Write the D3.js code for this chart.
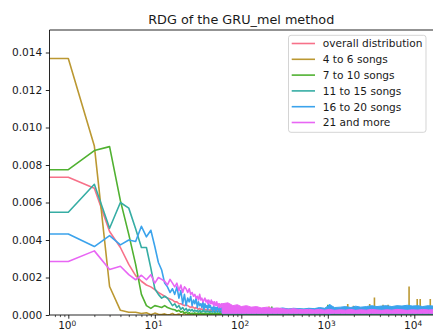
<!DOCTYPE html>
<html>
<head>
<meta charset="utf-8">
<script src="https://cdn.jsdelivr.net/npm/d3@7"></script>
<style>
  body { margin: 0; background: #fff; }
  text { font-family: "DejaVu Sans", sans-serif; fill: #1a1a1a; }
</style>
</head>
<body>
<svg id="chart" width="433" height="330"></svg>
<script>
// Relative distribution of songs by rank (x, log scale) for each playlist-length group.
const seriesNames = ["overall distribution", "4 to 6 songs", "7 to 10 songs",
                     "11 to 15 songs", "16 to 20 songs", "21 and more"];
const seriesColors = ["#f77189", "#bb9832", "#50b131", "#36ada4", "#3ba3ec", "#e866f4"];

// Values for ranks 0..60, one per rank
const headOverall = [
  0.00735, 0.00735, 0.00676, 0.00445, 0.0036, 0.0027, 0.0021, 0.0018, 0.0016, 0.0015,
  0.00135, 0.0012, 0.0011, 0.001, 0.0009, 0.00085, 0.0008, 0.0007, 0.0007, 0.0006,
  0.0006, 0.00055, 0.0005, 0.00055, 0.0005, 0.00045, 0.0004, 0.00045, 0.0004, 0.00035,
  0.0004, 0.00035, 0.0003, 0.00035, 0.0003, 0.00032, 0.0003, 0.00028, 0.0003, 0.00027,
  0.0003, 0.00026, 0.00028, 0.00025, 0.00028, 0.00024, 0.00027, 0.00025, 0.00023, 0.00026,
  0.00024, 0.00022, 0.00025, 0.00023, 0.00022, 0.00024, 0.00021, 0.00023, 0.00022, 0.0002, 0.00022];
const head4to6 = [
  0.01368, 0.01368, 0.00901, 0.00152, 0.00025, 0.00015, 0.00015, 0.00008, 0.00012, 0.00002,
  0.0001, 0.00004, 0.00002, 0.00006, 0.0, 0.00003, 0.00008, 0.0, 0.00002, 0.00005,
  0.0, 0.00003, 0.0001, 0.0, 0.00002, 0.00006, 0.0, 0.00004, 0.00002, 0.0,
  0.00005, 0.0, 0.00003, 0.00008, 0.0, 0.00002, 0.00004, 0.0, 0.00006, 0.0,
  0.00003, 0.0, 0.00005, 0.00002, 0.0, 0.00007, 0.0, 0.00003, 0.0, 0.00004,
  0.0, 0.00006, 0.0, 0.00003, 0.00008, 0.0, 0.00004, 0.0, 0.00005, 0.0, 0.00003];
const head7to10 = [
  0.00775, 0.00775, 0.00877, 0.00898, 0.0061, 0.0043, 0.0027, 0.0011, 0.0005, 0.00035,
  0.0005, 0.00045, 0.0004, 0.0005, 0.0004, 0.00035, 0.0003, 0.00028, 0.0002, 0.00025,
  0.00015, 0.0002, 0.0001, 0.00015, 0.00008, 0.00012, 0.00006, 0.0001, 0.00005, 0.00012,
  0.00006, 0.0001, 0.00004, 0.00008, 0.00012, 0.00005, 0.00009, 0.00004, 0.0001, 0.00006,
  0.00008, 0.00003, 0.00009, 0.00005, 0.0001, 0.00004, 0.00008, 0.00006, 0.00003, 0.0001,
  0.00005, 0.00008, 0.00004, 0.00009, 0.00006, 0.00003, 0.0001, 0.00005, 0.00007, 0.00004, 0.00008];
const head11to15 = [
  0.00548, 0.00548, 0.00697, 0.00463, 0.006, 0.0057, 0.0046, 0.0036, 0.0036, 0.0025,
  0.0014, 0.0011, 0.0009, 0.001, 0.0009, 0.0007, 0.0005, 0.0006, 0.0004, 0.0005,
  0.0003, 0.0004, 0.00025, 0.00035, 0.0002, 0.0003, 0.00022, 0.0003, 0.00018, 0.00026,
  0.0002, 0.00025, 0.00015, 0.00024, 0.0002, 0.00016, 0.00025, 0.00018, 0.00022, 0.00015,
  0.00022, 0.00017, 0.0002, 0.00014, 0.00021, 0.00018, 0.00015, 0.0002, 0.00016, 0.00019,
  0.00014, 0.0002, 0.00017, 0.00015, 0.00021, 0.00016, 0.00018, 0.00014, 0.0002, 0.00016, 0.00018];
const head16to20 = [
  0.00432, 0.00432, 0.00365, 0.00423, 0.00374, 0.004, 0.00392, 0.00473, 0.00417, 0.00452,
  0.00365, 0.0028, 0.0024, 0.0017, 0.0015, 0.0012, 0.0014, 0.0011, 0.0015, 0.0009,
  0.0013, 0.0006, 0.0011, 0.0005, 0.0009, 0.0007, 0.001, 0.0005, 0.0008, 0.0006,
  0.0009, 0.0004, 0.0007, 0.0005, 0.0006, 0.0004, 0.0007, 0.0003, 0.0006, 0.0004,
  0.0005, 0.0003, 0.0006, 0.0004, 0.0005, 0.0003, 0.0004, 0.0002, 0.0005, 0.0003,
  0.0004, 0.0002, 0.0004, 0.0003, 0.0005, 0.0002, 0.0004, 0.0003, 0.0003, 0.0004, 0.0002];
const head21plus = [
  0.00285, 0.00285, 0.00342, 0.00243, 0.0026, 0.00215, 0.00188, 0.00212, 0.00188, 0.00215,
  0.0017, 0.002, 0.0019, 0.0018, 0.0016, 0.0019, 0.0017, 0.0015, 0.0017, 0.0013,
  0.0016, 0.0012, 0.0015, 0.0014, 0.0012, 0.0014, 0.0011, 0.0012, 0.001, 0.0011,
  0.0009, 0.001, 0.0008, 0.0011, 0.0008, 0.0009, 0.0007, 0.0008, 0.0009, 0.0007,
  0.0008, 0.0006, 0.0008, 0.0007, 0.0006, 0.0008, 0.0006, 0.0007, 0.0005, 0.0007,
  0.0006, 0.0005, 0.0007, 0.0005, 0.0006, 0.0004, 0.0006, 0.0005, 0.0004, 0.0006, 0.0005];

// Long tail: upper envelope per rank bin, lower envelope as one floor per series
const tailRank = [60, 70, 80, 90, 100, 115, 130, 150, 170, 200, 230, 260, 300, 350, 400, 460, 530,
  600, 700, 800, 920, 1050, 1200, 1400, 1600, 1850, 2100, 2400, 2800, 3200, 3700, 4200, 4800,
  5500, 6300, 7200, 8300, 9500, 11000, 12500, 14500, 16500];
const tailHiOverall = [0.00025, 0.00028, 0.00024, 0.00026, 0.00023, 0.00025, 0.00022, 0.00024, 0.00022,
  0.00023, 0.00021, 0.00023, 0.00022, 0.0002, 0.00022, 0.00021, 0.0002, 0.00022, 0.0002, 0.00021, 0.0002,
  0.00022, 0.0002, 0.00021, 0.0002, 0.00022, 0.0002, 0.00021, 0.00022, 0.0002, 0.00021, 0.0002, 0.00022,
  0.0002, 0.00021, 0.0002, 0.00022, 0.0002, 0.00021, 0.0002, 0.00022, 0.0002];
const tailHi4to6 = [0.0001, 0.00008, 0.00012, 0.0001, 0.00009, 0.00012, 0.0001, 0.00013, 0.0001, 0.00015,
  0.00012, 0.0001, 0.00014, 0.00012, 0.00015, 0.00013, 0.00012, 0.00015, 0.00014, 0.00013, 0.00016,
  0.00014, 0.00015, 0.00018, 0.00016, 0.00015, 0.00018, 0.00016, 0.0002, 0.00018, 0.00017, 0.0002,
  0.00019, 0.00018, 0.00021, 0.0002, 0.00019, 0.00022, 0.0002, 0.00021, 0.00022, 0.0002];
const tailHi7to10 = [0.00012, 0.0001, 0.00014, 0.00012, 0.00015, 0.00013, 0.00016, 0.00014, 0.00016,
  0.00018, 0.00016, 0.0002, 0.00018, 0.0002, 0.00019, 0.00021, 0.0002, 0.00022, 0.0002, 0.00021, 0.00022,
  0.00024, 0.00022, 0.00023, 0.00025, 0.00023, 0.00024, 0.00026, 0.00024, 0.00025, 0.00027, 0.00025,
  0.00026, 0.00028, 0.00026, 0.00027, 0.00028, 0.00026, 0.00028, 0.00027, 0.00028, 0.00026];
const tailHi11to15 = [0.0003, 0.00028, 0.00032, 0.0003, 0.00028, 0.0003, 0.00027, 0.0003, 0.00028, 0.0003,
  0.00029, 0.00031, 0.0003, 0.00032, 0.0003, 0.00033, 0.00031, 0.00033, 0.00032, 0.00034, 0.00032,
  0.00035, 0.00033, 0.00035, 0.00034, 0.00036, 0.00034, 0.00036, 0.00035, 0.00037, 0.00035, 0.00037,
  0.00036, 0.00038, 0.00036, 0.00038, 0.00037, 0.00039, 0.00037, 0.00038, 0.00039, 0.00037];
const tailHi16to20 = [0.0004, 0.00032, 0.00042, 0.0003, 0.00036, 0.00032, 0.00038, 0.0003, 0.00035, 0.0003,
  0.00036, 0.00032, 0.00038, 0.00032, 0.00036, 0.00034, 0.00032, 0.00036, 0.00034, 0.0004, 0.00036,
  0.00055, 0.0004, 0.00042, 0.00045, 0.0004, 0.00047, 0.00042, 0.00045, 0.0005, 0.00045, 0.00048,
  0.0005, 0.00045, 0.0005, 0.00048, 0.00052, 0.00048, 0.0005, 0.00045, 0.0005, 0.00048];
const tailHi21plus = [0.0006, 0.00065, 0.0005, 0.00055, 0.00045, 0.0005, 0.00042, 0.00045, 0.00038, 0.00042,
  0.00035, 0.00038, 0.00034, 0.0003, 0.00034, 0.0003, 0.00028, 0.0003, 0.00027, 0.0003, 0.00026,
  0.0003, 0.00025, 0.00028, 0.00026, 0.0003, 0.00025, 0.00028, 0.00026, 0.0003, 0.00027, 0.00025,
  0.00028, 0.00026, 0.0003, 0.00028, 0.00025, 0.00028, 0.00026, 0.0003, 0.00027, 0.00028];
const tailFloor = [0.0001, 0.0, 0.0, 0.00004, 0.00012, 0.00009];

// Isolated peaks in the tail
const spikeSeries = [1, 1, 1, 1, 1, 1, 1, 1, 1, 1, 1, 1, 2, 2, 2, 4];
const spikeRank = [209, 1700, 1980, 3050, 3460, 4350, 4980, 7770, 8700, 10800, 11700, 15300, 225, 1000, 8900, 1050];
const spikeValue = [0.00045, 0.00059, 0.0005, 0.00059, 0.00094, 0.00055, 0.00055, 0.0005, 0.00152,
  0.00085, 0.00085, 0.00085, 0.00046, 0.00055, 0.00042, 0.00058];

const yTicks = [0, 0.002, 0.004, 0.006, 0.008, 0.01, 0.012, 0.014];
const xMajorTicks = [1, 10, 100, 1000, 10000];
const xTickExponents = ["0", "1", "2", "3", "4"];

const heads = [headOverall, head4to6, head7to10, head11to15, head16to20, head21plus];
const tailHis = [tailHiOverall, tailHi4to6, tailHi7to10, tailHi11to15, tailHi16to20, tailHi21plus];

const plotLeft = 49.5, plotRight = 433, plotTop = 30, plotBottom = 315;
const fs = 10.6;

const svg = d3.select("#chart");

const x = d3.scaleLog().domain([0.606, 16450]).range([plotLeft, plotRight]).clamp(true);
const y = d3.scaleLinear().domain([0, 0.0152]).range([plotBottom, plotTop]);

svg.append("defs").append("clipPath").attr("id", "plot-clip")
  .append("rect").attr("x", plotLeft).attr("y", plotTop - 2)
  .attr("width", plotRight - plotLeft).attr("height", plotBottom - plotTop + 2);

const plot = svg.append("g").attr("clip-path", "url(#plot-clip)");

const line = d3.line().x(d => x(d.r)).y(d => y(d.v));
const area = d3.area().x(d => x(d.r)).y0(d => y(d.lo)).y1(d => y(d.hi));

heads.forEach((vals, s) => {
  const g = plot.append("g");
  const col = seriesColors[s];
  // tail band
  const tail = tailRank.map((r, i) => ({ r, hi: tailHis[s][i], lo: tailFloor[s] }));
  g.append("path").datum(tail).attr("d", area)
    .attr("fill", col).attr("stroke", col).attr("stroke-width", 1).attr("stroke-linejoin", "round");
  // isolated peaks
  spikeRank.forEach((r, i) => {
    if (spikeSeries[i] !== s) return;
    g.append("line").attr("x1", x(r)).attr("x2", x(r))
      .attr("y1", y(0)).attr("y2", y(spikeValue[i]))
      .attr("stroke", col).attr("stroke-width", 1.6);
  });
  // head line
  const pts = vals.map((v, r) => ({ r, v }));
  g.append("path").datum(pts).attr("d", line)
    .attr("fill", "none").attr("stroke", col).attr("stroke-width", 1.6)
    .attr("stroke-linejoin", "round").attr("stroke-linecap", "square");
});

// Y axis
const yAxis = svg.append("g").attr("transform", `translate(${plotLeft},0)`)
  .call(d3.axisLeft(y).tickValues(yTicks).tickFormat(d3.format(".3f"))
    .tickSize(3.7).tickPadding(3.5));
yAxis.select(".domain").remove();
yAxis.selectAll(".tick line").attr("stroke", "#000").attr("stroke-width", 0.85);
yAxis.selectAll(".tick text").attr("font-size", fs).attr("font-family", "DejaVu Sans");

// X axis: minor ticks
const minorTicks = x.ticks().filter(t => !xMajorTicks.includes(t));
const xMinor = svg.append("g").attr("transform", `translate(0,${plotBottom})`)
  .call(d3.axisBottom(x).tickValues(minorTicks).tickFormat("").tickSize(2.1));
xMinor.select(".domain").remove();
xMinor.selectAll(".tick line").attr("stroke", "#000").attr("stroke-width", 0.65);

// X axis: major ticks with power-of-ten labels
const xMajor = svg.append("g").attr("transform", `translate(0,${plotBottom})`)
  .call(d3.axisBottom(x).tickValues(xMajorTicks).tickFormat(() => "10")
    .tickSize(3.7).tickPadding(3.2));
xMajor.select(".domain").remove();
xMajor.selectAll(".tick line").attr("stroke", "#000").attr("stroke-width", 0.85);
xMajor.selectAll(".tick text").attr("font-size", fs).attr("font-family", "DejaVu Sans")
  .attr("dx", "-0.15em")
  .append("tspan").attr("dy", "-0.42em").attr("font-size", "0.7em")
  .text((d, i) => xTickExponents[i]);

// Spines
svg.append("line").attr("x1", plotLeft).attr("x2", plotLeft).attr("y1", plotTop).attr("y2", plotBottom)
  .attr("stroke", "#000").attr("stroke-width", 0.85);
svg.append("line").attr("x1", plotLeft).attr("x2", plotRight).attr("y1", plotBottom).attr("y2", plotBottom)
  .attr("stroke", "#000").attr("stroke-width", 0.85);
svg.append("line").attr("x1", plotLeft).attr("x2", plotRight).attr("y1", plotTop).attr("y2", plotTop)
  .attr("stroke", "#000").attr("stroke-width", 0.85);

// Title
svg.append("text").attr("x", (plotLeft + plotRight) / 2).attr("y", 24)
  .attr("text-anchor", "middle").attr("font-size", 12.8)
  .text("RDG of the GRU_mel method");

// Legend
const lg = svg.append("g");
lg.append("rect").attr("x", 288.5).attr("y", 35.3).attr("width", 137.5).attr("height", 97)
  .attr("rx", 2.5).attr("fill", "#fff").attr("fill-opacity", 0.8)
  .attr("stroke", "#cccccc").attr("stroke-width", 0.85);
seriesNames.forEach((name, i) => {
  const cy = 43.5 + i * 15.8;
  lg.append("line").attr("x1", 291.7).attr("x2", 315).attr("y1", cy).attr("y2", cy)
    .attr("stroke", seriesColors[i]).attr("stroke-width", 1.6);
  lg.append("text").attr("x", 322.7).attr("y", cy + 3.8).attr("font-size", fs).text(name);
});
</script>
</body>
</html>
